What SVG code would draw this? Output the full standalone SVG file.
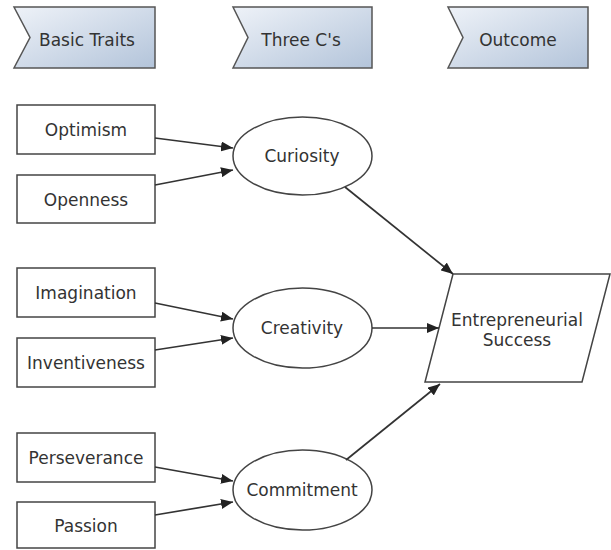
<svg xmlns="http://www.w3.org/2000/svg" width="611" height="550" viewBox="0 0 611 550">
<style>
text{font-family:"DejaVu Sans",Verdana,sans-serif;font-size:17px;fill:#333;text-anchor:middle}
.box{fill:#fff;stroke:#444;stroke-width:1.5}
.hdr{fill:url(#g);stroke:#555;stroke-width:1.5}
.con{stroke:#333;stroke-width:1.7;fill:none;marker-end:url(#ah)}
</style>
<defs>
<linearGradient id="g" x1="0" y1="0" x2="1" y2="1">
<stop offset="0" stop-color="#eef2f8"/>
<stop offset="1" stop-color="#b3c4da"/>
</linearGradient>
<marker id="ah" viewBox="0 0 12 10" refX="12" refY="5" markerWidth="12" markerHeight="10" markerUnits="userSpaceOnUse" orient="auto">
<path d="M0,0 L12,5 L0,10 z" fill="#222"/>
</marker>
</defs>
<rect width="611" height="550" fill="#fff"/>
<g id="hdr-basic"><path class="hdr" d="M14,7 H155 V68 H14 L30,37.5 Z"/><text x="87" y="46">Basic Traits</text></g>
<g id="hdr-three"><path class="hdr" d="M233,7 H372 V68 H233 L248,37.5 Z"/><text x="301" y="46">Three C's</text></g>
<g id="hdr-outcome"><path class="hdr" d="M448,7 H588 V68 H448 L463,37.5 Z"/><text x="518" y="46">Outcome</text></g>

<g id="optimism"><rect class="box" x="17" y="105" width="138" height="49"/><text x="86" y="136">Optimism</text></g>
<g id="openness"><rect class="box" x="17" y="175" width="138" height="48"/><text x="86" y="206">Openness</text></g>
<g id="imagination"><rect class="box" x="17" y="268" width="138" height="49"/><text x="86" y="299">Imagination</text></g>
<g id="inventiveness"><rect class="box" x="17" y="338" width="138" height="49"/><text x="86" y="369">Inventiveness</text></g>
<g id="perseverance"><rect class="box" x="17" y="433" width="138" height="49"/><text x="86" y="464">Perseverance</text></g>
<g id="passion"><rect class="box" x="17" y="502" width="138" height="46"/><text x="86" y="532">Passion</text></g>

<g id="curiosity"><ellipse class="box" cx="302.5" cy="156" rx="69.5" ry="39"/><text x="302" y="162">Curiosity</text></g>
<g id="creativity"><ellipse class="box" cx="302.5" cy="328" rx="69.5" ry="40"/><text x="302" y="334">Creativity</text></g>
<g id="commitment"><ellipse class="box" cx="302.5" cy="490" rx="69.5" ry="40"/><text x="302" y="496">Commitment</text></g>

<g id="success"><path class="box" d="M453,274 H610 L582,382 H425 Z"/><text x="517" y="326">Entrepreneurial</text><text x="517" y="346">Success</text></g>

<g id="connectors">
<line class="con" x1="155" y1="138" x2="233" y2="148"/>
<line class="con" x1="155" y1="185" x2="233" y2="170"/>
<line class="con" x1="155" y1="303" x2="233" y2="319"/>
<line class="con" x1="155" y1="350" x2="233" y2="338"/>
<line class="con" x1="155" y1="467" x2="233" y2="481"/>
<line class="con" x1="155" y1="515" x2="233" y2="502"/>
<line class="con" x1="345" y1="187" x2="453" y2="274"/>
<line class="con" x1="372" y1="328" x2="439" y2="328"/>
<line class="con" x1="346" y1="460" x2="440" y2="384"/>
</g>
</svg>
